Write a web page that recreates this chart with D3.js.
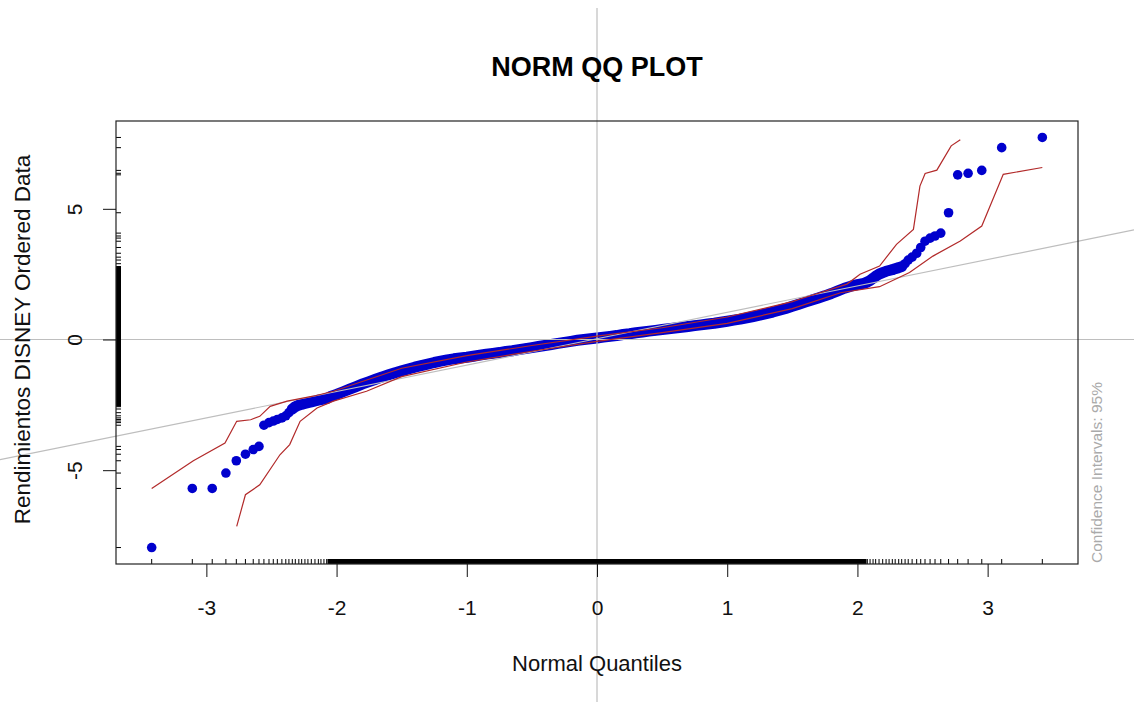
<!DOCTYPE html>
<html lang="en">
  <head>
    <meta charset="UTF-8" />
    <title>NORM QQ PLOT</title>
    <style>
      body {
        margin: 0;
        background: #fff;
      }
      svg text {
        font-family: "Liberation Sans", Arial, sans-serif;
      }
    </style>
  </head>
  <body>
    <div id="chart"></div>

    <script src="https://d3js.org/d3.v7.min.js"></script>
    <script>
      // lower tail: theoretical quantiles and ordered returns
      const tailLowQ = [-3.42, -3.108, -2.955, -2.85, -2.77, -2.70, -2.64, -2.596, -2.558, -2.519, -2.486, -2.455, -2.42, -2.39, -2.366, -2.34, -2.317, -2.29, -2.268, -2.243, -2.22, -2.194, -2.166, -2.14, -2.12, -2.097, -2.076];
      const tailLowRet = [-7.96, -5.70, -5.70, -5.11, -4.64, -4.39, -4.21, -4.09, -3.28, -3.18, -3.12, -3.06, -3.00, -2.92, -2.80, -2.66, -2.57, -2.51, -2.48, -2.45, -2.42, -2.39, -2.35, -2.32, -2.30, -2.28, -2.26];

      // central body (read along the dense band)
      const midQ = [-2.05, -2.00, -1.95, -1.90, -1.85, -1.80, -1.75, -1.70, -1.65, -1.60, -1.55, -1.50, -1.45, -1.40, -1.35, -1.30, -1.25, -1.20, -1.15, -1.10, -1.05, -1.00, -0.95, -0.90, -0.85, -0.80, -0.75, -0.70, -0.65, -0.60, -0.55, -0.50, -0.45, -0.40, -0.35, -0.30, -0.25, -0.20, -0.15, -0.10, -0.05, 0.00, 0.05, 0.10, 0.15, 0.20, 0.25, 0.30, 0.35, 0.40, 0.45, 0.50, 0.55, 0.60, 0.65, 0.70, 0.75, 0.80, 0.85, 0.90, 0.95, 1.00, 1.05, 1.10, 1.15, 1.20, 1.25, 1.30, 1.35, 1.40, 1.45, 1.50, 1.55, 1.60, 1.65, 1.70, 1.75, 1.80, 1.85, 1.90, 1.95, 2.00, 2.05];
      const midRet = [-2.19, -2.10, -2.00, -1.90, -1.80, -1.70, -1.61, -1.52, -1.43, -1.35, -1.27, -1.20, -1.13, -1.06, -1.00, -0.94, -0.88, -0.83, -0.78, -0.74, -0.71, -0.68, -0.64, -0.60, -0.56, -0.53, -0.50, -0.46, -0.43, -0.39, -0.35, -0.31, -0.27, -0.23, -0.19, -0.15, -0.11, -0.07, -0.03, 0.00, 0.03, 0.06, 0.09, 0.12, 0.15, 0.19, 0.22, 0.26, 0.29, 0.32, 0.35, 0.38, 0.41, 0.44, 0.47, 0.50, 0.53, 0.56, 0.59, 0.62, 0.66, 0.70, 0.74, 0.78, 0.83, 0.88, 0.93, 0.99, 1.05, 1.12, 1.19, 1.27, 1.35, 1.43, 1.51, 1.59, 1.67, 1.76, 1.86, 1.96, 2.04, 2.10, 2.15];

      // upper tail
      const tailHighQ = [2.076, 2.097, 2.12, 2.14, 2.166, 2.194, 2.22, 2.243, 2.268, 2.29, 2.317, 2.34, 2.366, 2.39, 2.42, 2.455, 2.486, 2.519, 2.558, 2.596, 2.64, 2.70, 2.77, 2.85, 2.955, 3.108, 3.42];
      const tailHighRet = [2.20, 2.26, 2.34, 2.42, 2.50, 2.56, 2.61, 2.64, 2.67, 2.71, 2.75, 2.79, 2.90, 3.04, 3.15, 3.30, 3.52, 3.76, 3.88, 3.96, 4.07, 4.85, 6.30, 6.36, 6.47, 7.34, 7.73];

      // 95% confidence envelope
      const envUpQ = [-3.42, -3.10, -2.857, -2.767, -2.66, -2.59, -2.51, -2.38, -2.18, -2.025, -1.5, -1.0, -0.5, 0, 0.5, 1.0, 1.5, 1.56, 1.92, 2.02, 2.17, 2.30, 2.43, 2.48, 2.52, 2.61, 2.72, 2.79];
      const envUpRet = [-5.70, -4.64, -3.96, -3.13, -3.07, -2.94, -2.56, -2.36, -2.17, -1.98, -1.10, -0.62, -0.23, 0.13, 0.45, 0.86, 1.45, 1.55, 2.12, 2.50, 2.81, 3.64, 4.21, 5.87, 6.35, 6.48, 7.41, 7.64];
      const envLoQ = [-2.767, -2.70, -2.59, -2.435, -2.36, -2.28, -2.15, -2.025, -1.77, -1.5, -1.0, -0.5, 0, 0.5, 1.0, 1.5, 1.87, 2.17, 2.40, 2.58, 2.79, 2.955, 3.12, 3.42];
      const envLoRet = [-7.15, -5.94, -5.56, -4.41, -4.02, -3.13, -2.62, -2.36, -1.98, -1.42, -0.86, -0.45, -0.07, 0.26, 0.62, 1.18, 1.79, 2.02, 2.56, 3.19, 3.77, 4.34, 6.32, 6.58];

      // reference line and dense rug extents
      const qqIntercept = 0.03;
      const qqSlope = 1.01;
      const rugDenseQ = [-2.07, 2.07];
      const rugDenseRet = [-2.56, 2.8];

      const xTicks = [-3, -2, -1, 0, 1, 2, 3];
      const yTicks = [-5, 0, 5];

      const width = 1134,
        height = 702;
      const box = { left: 116, right: 1078, top: 121, bottom: 564 };
      const blue = "#0000cd";

      const svg = d3
        .select("#chart")
        .append("svg")
        .attr("width", width)
        .attr("height", height);

      const x = d3.scaleLinear().domain([-3.694, 3.694]).range([box.left, box.right]);
      const y = d3.scaleLinear().domain([-8.59, 8.36]).range([box.bottom, box.top]);

      const points = [];
      [[tailLowQ, tailLowRet], [midQ, midRet], [tailHighQ, tailHighRet]].forEach(([qs, rs]) => {
        qs.forEach((q, i) => points.push({ q, r: rs[i] }));
      });

      svg
        .append("clipPath")
        .attr("id", "plotClip")
        .append("rect")
        .attr("x", box.left)
        .attr("y", box.top)
        .attr("width", box.right - box.left)
        .attr("height", box.bottom - box.top);

      const plot = svg.append("g").attr("clip-path", "url(#plotClip)");

      // the dense middle: hundreds of overlapping dots, drawn as a thick stroke through them
      const dense = points.filter((d) => d.q > -2.35 && d.q < 2.35);
      plot
        .append("path")
        .attr(
          "d",
          d3
            .line()
            .x((d) => x(d.q))
            .y((d) => y(d.r))(dense)
        )
        .style("fill", "none")
        .style("stroke", blue)
        .style("stroke-width", 11)
        .style("stroke-linecap", "round")
        .style("stroke-linejoin", "round");

      // points
      plot
        .selectAll("circle")
        .data(points)
        .enter()
        .append("circle")
        .attr("cx", (d) => x(d.q))
        .attr("cy", (d) => y(d.r))
        .attr("r", 4.8)
        .style("fill", blue);

      // gray reference lines (not clipped, like the original)
      svg
        .append("line")
        .attr("x1", x(0))
        .attr("x2", x(0))
        .attr("y1", 8)
        .attr("y2", height)
        .style("stroke", "#bebebe")
        .style("stroke-width", 1.2);
      svg
        .append("line")
        .attr("x1", 0)
        .attr("x2", width)
        .attr("y1", y(0))
        .attr("y2", y(0))
        .style("stroke", "#bebebe")
        .style("stroke-width", 1.2);
      const qLeft = x.invert(0),
        qRight = x.invert(width);
      svg
        .append("line")
        .attr("x1", 0)
        .attr("x2", width)
        .attr("y1", y(qqIntercept + qqSlope * qLeft))
        .attr("y2", y(qqIntercept + qqSlope * qRight))
        .style("stroke", "#bebebe")
        .style("stroke-width", 1.2);

      // confidence envelope
      const line = d3
        .line()
        .x((d) => x(d[0]))
        .y((d) => y(d[1]));
      [[envUpQ, envUpRet], [envLoQ, envLoRet]].forEach(([qs, rs]) => {
        svg
          .append("path")
          .attr("d", line(qs.map((q, i) => [q, rs[i]])))
          .style("fill", "none")
          .style("stroke", "#b22a2a")
          .style("stroke-width", 1.2);
      });

      // rugs
      const rug = svg.append("g").style("stroke", "#000").style("stroke-width", 1);
      rug
        .selectAll(".rugx")
        .data(points)
        .enter()
        .append("line")
        .attr("x1", (d) => x(d.q))
        .attr("x2", (d) => x(d.q))
        .attr("y1", box.bottom)
        .attr("y2", box.bottom - 5);
      rug
        .selectAll(".rugy")
        .data(points)
        .enter()
        .append("line")
        .attr("y1", (d) => y(d.r))
        .attr("y2", (d) => y(d.r))
        .attr("x1", box.left)
        .attr("x2", box.left + 5);
      svg
        .append("rect")
        .attr("x", x(rugDenseQ[0]))
        .attr("width", x(rugDenseQ[1]) - x(rugDenseQ[0]))
        .attr("y", box.bottom - 5)
        .attr("height", 5)
        .style("fill", "#000");
      svg
        .append("rect")
        .attr("x", box.left)
        .attr("width", 5)
        .attr("y", y(rugDenseRet[1]))
        .attr("height", y(rugDenseRet[0]) - y(rugDenseRet[1]))
        .style("fill", "#000");

      // box
      svg
        .append("rect")
        .attr("x", box.left)
        .attr("y", box.top)
        .attr("width", box.right - box.left)
        .attr("height", box.bottom - box.top)
        .style("fill", "none")
        .style("stroke", "#222")
        .style("stroke-width", 1.2);

      // axes (plain hyphen for negatives, as in the original)
      const fmt = (d) => String(d);
      const xAxis = svg
        .append("g")
        .attr("transform", `translate(0,${box.bottom})`)
        .call(d3.axisBottom(x).tickValues(xTicks).tickSize(13).tickPadding(23).tickFormat(fmt));
      xAxis.select(".domain").remove();
      xAxis.selectAll("text").style("font-size", "21px").style("fill", "#111");
      xAxis.selectAll("line").style("stroke", "#111");

      const yAxis = svg
        .append("g")
        .attr("transform", `translate(${box.left},0)`)
        .call(d3.axisLeft(y).tickValues(yTicks).tickSize(13).tickFormat(fmt));
      yAxis.select(".domain").remove();
      yAxis.selectAll("line").style("stroke", "#111");
      yAxis
        .selectAll("text")
        .attr("x", 0)
        .attr("dy", 0)
        .attr("text-anchor", "middle")
        .attr("transform", "translate(-34,0) rotate(-90)")
        .style("font-size", "21px")
        .style("fill", "#111");

      // titles
      svg
        .append("text")
        .attr("x", x(0))
        .attr("y", 76)
        .attr("text-anchor", "middle")
        .style("font-size", "27px")
        .style("font-weight", "bold")
        .text("NORM QQ PLOT");

      svg
        .append("text")
        .attr("x", x(0))
        .attr("y", 671)
        .attr("text-anchor", "middle")
        .style("font-size", "22px")
        .style("fill", "#111")
        .text("Normal Quantiles");

      svg
        .append("text")
        .attr("transform", `translate(30,${y(0)}) rotate(-90)`)
        .attr("text-anchor", "middle")
        .style("font-size", "22.5px")
        .style("fill", "#111")
        .text("Rendimientos DISNEY Ordered Data");

      svg
        .append("text")
        .attr("transform", `translate(1102,${box.bottom - 1}) rotate(-90)`)
        .attr("text-anchor", "start")
        .style("font-size", "15.5px")
        .style("fill", "#aaaaaa")
        .text("Confidence Intervals: 95%");
    </script>
  </body>
</html>
